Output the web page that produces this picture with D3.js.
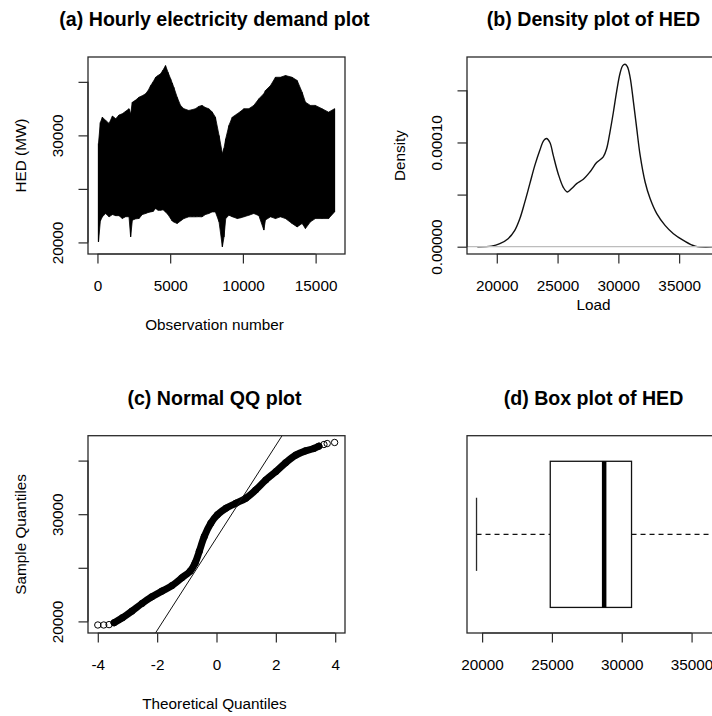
<!DOCTYPE html>
<html>
<head>
<meta charset="utf-8">
<script src="https://cdn.jsdelivr.net/npm/d3@7"></script>
<style>
  body { margin: 0; background: #fff; }
  text { font-family: "Liberation Sans", Arial, sans-serif; fill: #000; }
</style>
</head>
<body>
<script>
"use strict";
(function(){
  // (a) hourly demand, envelope of the series
  const hedObs   = [70, 200, 340, 560, 800, 1030, 1260, 1480, 1710, 1940, 2170, 2280, 2400, 2630, 2860, 3080, 3310, 3490, 3660, 3830, 4000, 4170, 4340, 4510, 4680, 4850, 5030, 5140, 5250, 5480, 5710, 5940, 6280, 6510, 6740, 6960, 7190, 7420, 7650, 7880, 8110, 8360, 8590, 8700, 8820, 9040, 9270, 9620, 9850, 10070, 10410, 10750, 11100, 11440, 11550, 11900, 12240, 12580, 12930, 13380, 13730, 14070, 14300, 14640, 14980, 15440, 15890, 16300];
  const hedUpper = [29250, 31200, 31700, 31400, 31120, 31800, 31550, 31900, 32020, 32250, 32490, 32000, 33100, 33300, 33570, 33700, 33890, 34200, 34660, 35000, 35430, 35600, 35750, 36100, 36520, 35900, 35280, 34900, 34500, 33570, 32800, 32490, 32330, 32400, 32490, 32700, 32800, 32600, 32490, 32200, 31700, 30000, 28290, 28800, 29690, 30930, 31700, 32020, 32250, 32490, 32490, 32800, 33420, 33900, 34190, 34660, 35430, 35430, 35590, 35430, 35130, 34040, 33100, 32800, 32800, 32490, 32170, 32490];
  const hedLower = [20060, 22000, 22390, 22700, 22390, 22600, 22500, 22500, 22240, 22400, 22400, 20520, 22080, 22200, 22240, 22600, 22700, 22800, 22850, 22900, 23170, 23000, 23000, 23050, 22850, 22600, 22230, 22000, 21900, 21770, 22000, 22230, 22390, 22390, 22390, 22400, 22390, 22600, 22700, 22850, 22850, 21920, 19590, 20500, 22230, 22540, 22400, 22230, 22300, 22390, 22540, 22700, 22500, 21150, 22100, 22390, 22230, 22390, 22230, 21770, 21450, 21770, 21300, 21920, 22230, 22230, 22230, 22850];

  // (b) density of load
  const densLoad  = [18400, 19560, 20250, 20930, 21480, 21900, 22310, 22720, 23130, 23540, 23870, 24090, 24370, 24640, 25050, 25470, 25800, 26160, 26570, 27120, 27660, 28210, 28760, 29040, 29310, 29590, 29860, 30140, 30360, 30550, 30740, 30960, 31240, 31510, 31790, 32200, 32610, 33160, 33840, 34530, 35350, 36320, 37900];
  const densValue = [0, 0.0000006, 0.0000029, 0.0000077, 0.0000157, 0.000027, 0.000043, 0.0000605, 0.000078, 0.0000926, 0.000102, 0.0001038, 0.0001, 0.0000878, 0.00007, 0.000057, 0.0000525, 0.0000558, 0.0000605, 0.0000647, 0.0000717, 0.0000807, 0.0000862, 0.0000942, 0.00011, 0.000129, 0.000149, 0.0001664, 0.0001737, 0.000175, 0.0001727, 0.000163, 0.000139, 0.0001135, 0.0000878, 0.0000621, 0.0000462, 0.0000317, 0.0000205, 0.0000125, 0.0000061, 0.0000006, 0];

  // (c) normal QQ points
  const qqTheo   = [-4.0, -3.8, -3.62, -3.45, -3.17, -2.85, -2.51, -2.18, -1.84, -1.50, -1.17, -0.89, -0.72, -0.58, -0.41, -0.19, 0.03, 0.32, 0.65, 0.99, 1.32, 1.66, 2.00, 2.33, 2.67, 3.00, 3.28, 3.45, 3.62, 3.73, 3.98];
  const qqSample = [19665, 19665, 19700, 19880, 20340, 20960, 21670, 22290, 22820, 23340, 24060, 24680, 25450, 26540, 27930, 29160, 29940, 30560, 31020, 31490, 32260, 33190, 33970, 34800, 35510, 35910, 36130, 36340, 36500, 36590, 36690];

  // (d) box plot: min, q1, median, q3, max
  const boxStats = [19600, 24880, 28740, 30700, 36640];

  const titles = ["(a) Hourly electricity demand plot", "(b) Density plot of HED", "(c) Normal QQ plot", "(d) Box plot of HED"];
  const obsTicks = [0, 5000, 10000, 15000];
  const hedTicks = [20000, 25000, 30000, 35000];
  const hedLabelled = [20000, 30000];
  const qqTicks = [-4, -2, 0, 2, 4];
  const densTicks = [0, 0.00005, 0.0001, 0.00015];
  const densLabelled = [0, 0.0001];

  const W = 712, H = 716;
  const fs = 15.3;
  const ink = "#2a2a2a";

  const svg = d3.select("body").append("svg")
      .attr("width", W).attr("height", H);

  // plot boxes
  const boxes = [
    {x0: 88, x1: 345, y0: 57, y1: 254},
    {x0: 467, x1: 724, y0: 57, y1: 254},
    {x0: 88, x1: 345, y0: 435.7, y1: 633},
    {x0: 467, x1: 724, y0: 435.7, y1: 633}
  ];

  function frame(b, i) {
    const g = svg.append("g");
    svg.append("clipPath").attr("id", "clip" + i)
      .append("rect").attr("x", b.x0).attr("y", b.y0)
      .attr("width", b.x1 - b.x0).attr("height", b.y1 - b.y0);
    g.append("text")
      .attr("x", (b.x0 + b.x1) / 2 - 2).attr("y", b.y0 - 31)
      .attr("text-anchor", "middle")
      .style("font-size", "19.6px").style("font-weight", "bold")
      .text(titles[i]);
    return g;
  }

  function drawBox(g, b) {
    g.append("rect").attr("x", b.x0).attr("y", b.y0)
      .attr("width", b.x1 - b.x0).attr("height", b.y1 - b.y0)
      .attr("fill", "none").attr("stroke", ink).attr("stroke-width", 1.3);
  }

  function bottomAxis(g, b, scale, ticks, fmt) {
    const ax = g.append("g").attr("transform", "translate(0," + b.y1 + ")")
      .call(d3.axisBottom(scale).tickValues(ticks).tickSize(9.5).tickFormat(fmt));
    ax.select(".domain").remove();
    ax.selectAll("line").attr("stroke", ink).attr("stroke-width", 1.2);
    ax.selectAll("text").attr("y", 37).attr("dy", null)
      .style("font-size", fs + "px").attr("font-family", null);
    ax.append("line").attr("x1", scale(ticks[0])).attr("x2", scale(ticks[ticks.length - 1]))
      .attr("stroke", ink).attr("stroke-width", 1.2);
  }

  function leftAxis(g, b, scale, ticks, fmt) {
    const ax = g.append("g").attr("transform", "translate(" + b.x0 + ",0)")
      .call(d3.axisLeft(scale).tickValues(ticks).tickSize(9.5).tickFormat(fmt));
    ax.select(".domain").remove();
    ax.selectAll("line").attr("stroke", ink).attr("stroke-width", 1.2);
    ax.selectAll("text").attr("transform", "rotate(-90)")
      .attr("x", 0).attr("y", -24.7).attr("dy", null)
      .attr("text-anchor", "middle")
      .style("font-size", fs + "px").attr("font-family", null);
    ax.append("line").attr("y1", scale(ticks[0])).attr("y2", scale(ticks[ticks.length - 1]))
      .attr("stroke", ink).attr("stroke-width", 1.2);
  }

  function xLabel(g, b, txt, dy) {
    g.append("text").attr("x", (b.x0 + b.x1) / 2 - 2).attr("y", b.y1 + dy)
      .attr("text-anchor", "middle").style("font-size", fs + "px").text(txt);
  }

  function yLabel(g, b, txt) {
    const cy = (b.y0 + b.y1) / 2;
    g.append("text")
      .attr("transform", "translate(" + (b.x0 - 62.5) + "," + cy + ") rotate(-90)")
      .attr("text-anchor", "middle").style("font-size", fs + "px").text(txt);
  }

  const hedFmt = d => hedLabelled.includes(d) ? String(d) : "";

  // ---- (a) time series
  {
    const b = boxes[0];
    const g = frame(b, 0);
    const x = d3.scaleLinear().domain([-650, 17020]).range([b.x0, b.x1]);
    const y = d3.scaleLinear().domain([18918, 37322]).range([b.y1, b.y0]);
    const rows = hedObs.map((o, i) => ({o: o, hi: hedUpper[i], lo: hedLower[i]}));
    const cg = g.append("g").attr("clip-path", "url(#clip0)");
    cg.append("path").datum(rows)
      .attr("fill", "#000").attr("stroke", "#000").attr("stroke-width", 0.8)
      .attr("d", d3.area()
        .x(d => x(d.o)).y0(d => y(d.lo)).y1(d => y(d.hi)));
    // one hair per sampled point, like the raw hourly series
    cg.selectAll(".hair").data(rows).enter().append("line")
      .attr("class", "hair")
      .attr("x1", d => x(d.o)).attr("x2", d => x(d.o))
      .attr("y1", d => y(d.lo)).attr("y2", d => y(d.hi))
      .attr("stroke", "#000").attr("stroke-width", 1.2);
    drawBox(g, b);
    bottomAxis(g, b, x, obsTicks, d => String(d));
    leftAxis(g, b, y, hedTicks, hedFmt);
    xLabel(g, b, "Observation number", 76);
    yLabel(g, b, "HED (MW)");
  }

  // ---- (b) density
  {
    const b = boxes[1];
    const g = frame(b, 1);
    const x = d3.scaleLinear().domain([17550, 38690]).range([b.x0, b.x1]);
    const y = d3.scaleLinear().domain([-0.000007, 0.000182]).range([b.y1, b.y0]);
    const pts = densLoad.map((v, i) => [v, densValue[i]]);
    g.append("path").datum(pts)
      .attr("clip-path", "url(#clip1)")
      .attr("fill", "none").attr("stroke", "#111").attr("stroke-width", 1.4)
      .attr("d", d3.line().curve(d3.curveCatmullRom).x(d => x(d[0])).y(d => y(d[1])));
    g.append("line").attr("x1", b.x0).attr("x2", b.x1)
      .attr("y1", y(0)).attr("y2", y(0))
      .attr("stroke", "#bdbdbd").attr("stroke-width", 1.2);
    drawBox(g, b);
    bottomAxis(g, b, x, hedTicks, d => String(d));
    leftAxis(g, b, y, densTicks, d => densLabelled.includes(d) ? d.toFixed(5) : "");
    xLabel(g, b, "Load", 56);
    yLabel(g, b, "Density");
  }

  // ---- (c) normal QQ
  {
    const b = boxes[2];
    const g = frame(b, 2);
    const x = d3.scaleLinear().domain([-4.33, 4.33]).range([b.x0, b.x1]);
    const y = d3.scaleLinear().domain([18918, 37322]).range([b.y1, b.y0]);
    const pts = qqTheo.map((t, i) => [t, qqSample[i]]);
    const dense = pts.filter(d => Math.abs(d[0]) < 3.5);
    const cg = g.append("g").attr("clip-path", "url(#clip2)");
    cg.append("path").datum(dense)
      .attr("fill", "none").attr("stroke", "#000").attr("stroke-width", 7)
      .attr("stroke-linecap", "round").attr("stroke-linejoin", "round")
      .attr("d", d3.line().curve(d3.curveCatmullRom).x(d => x(d[0])).y(d => y(d[1])));
    cg.selectAll(".pt").data(pts).enter().append("circle")
      .attr("class", "pt")
      .attr("cx", d => x(d[0])).attr("cy", d => y(d[1])).attr("r", 3.2)
      .attr("fill", "none").attr("stroke", "#000").attr("stroke-width", 1);
    // reference line through the quartiles
    const slope = (boxStats[3] - boxStats[1]) / (2 * 0.6745);
    const icpt = (boxStats[1] + boxStats[3]) / 2;
    cg.append("line")
      .attr("x1", x(-4.33)).attr("y1", y(icpt - 4.33 * slope))
      .attr("x2", x(4.33)).attr("y2", y(icpt + 4.33 * slope))
      .attr("stroke", "#111").attr("stroke-width", 1);
    drawBox(g, b);
    bottomAxis(g, b, x, qqTicks, d => String(d));
    leftAxis(g, b, y, hedTicks, hedFmt);
    xLabel(g, b, "Theoretical Quantiles", 76);
    yLabel(g, b, "Sample Quantiles");
  }

  // ---- (d) box plot
  {
    const b = boxes[3];
    const g = frame(b, 3);
    const x = d3.scaleLinear().domain([18918, 37322]).range([b.x0, b.x1]);
    const y = d3.scaleLinear().domain([0.46, 1.54]).range([b.y1, b.y0]);
    const cg = g.append("g").attr("clip-path", "url(#clip3)");
    const [mn, q1, md, q3, mx] = boxStats;
    [[mn, q1], [q3, mx]].forEach(s => {
      cg.append("line").attr("x1", x(s[0])).attr("x2", x(s[1]))
        .attr("y1", y(1)).attr("y2", y(1))
        .attr("stroke", "#111").attr("stroke-width", 1.2).attr("stroke-dasharray", "5,4");
    });
    [mn, mx].forEach(v => {
      cg.append("line").attr("x1", x(v)).attr("x2", x(v))
        .attr("y1", y(0.8)).attr("y2", y(1.2))
        .attr("stroke", ink).attr("stroke-width", 1.3);
    });
    cg.append("rect").attr("x", x(q1)).attr("y", y(1.4))
      .attr("width", x(q3) - x(q1)).attr("height", y(0.6) - y(1.4))
      .attr("fill", "#fff").attr("stroke", "#111").attr("stroke-width", 1.3);
    cg.append("line").attr("x1", x(md)).attr("x2", x(md))
      .attr("y1", y(0.6)).attr("y2", y(1.4))
      .attr("stroke", "#000").attr("stroke-width", 4.5);
    drawBox(g, b);
    bottomAxis(g, b, x, hedTicks, d => String(d));
  }
})();
</script>
</body>
</html>
